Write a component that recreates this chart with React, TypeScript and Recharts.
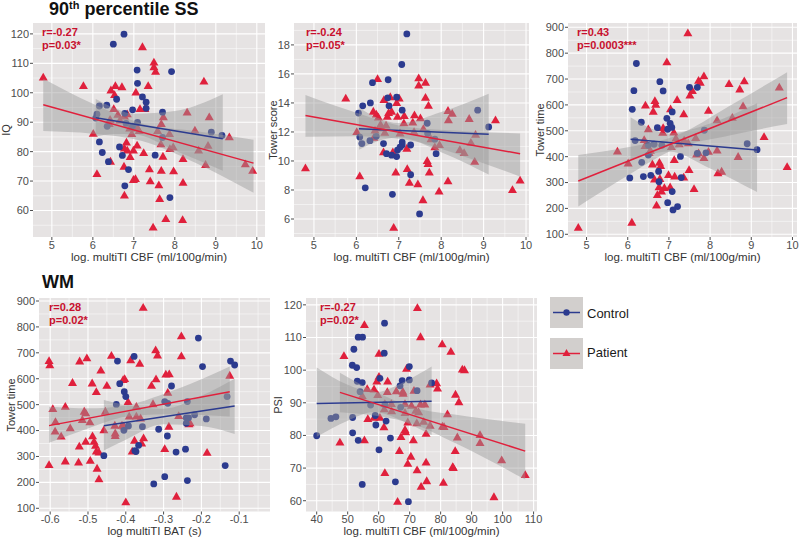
// @ts-nocheck
import React from 'react';
import { ComposedChart, Scatter, Area, Line, XAxis, YAxis, CartesianGrid } from 'recharts';

const FONT = '"Liberation Sans", Arial, Helvetica, sans-serif';
const BLUE = '#2c3b8f';
const RED = '#e0203c';
const NOTE_RED = '#c8102e';
const PANEL_BG = '#e6e3e3';

// ---- Panel 1: IQ vs CBF (90th percentile SS) ----
const iqCtrlX = [6.76, 6.5, 7.08, 7.92, 7.09, 7.21, 6.58, 7.3, 7.3, 6.34, 6.16, 6.97, 7.7, 6.78, 6.1, 6.07, 7.09, 6.81, 6.97, 6.35, 7.7, 8.89, 9.15, 6.16, 6.65, 6.23, 7.52, 6.72, 6.38, 6.87, 6.78, 7.88];
const iqCtrlY = [119.9, 116.5, 107.7, 107.2, 103.2, 98.6, 97.8, 96.8, 94.7, 95.8, 95.5, 94.2, 93.4, 93.0, 92.7, 91.4, 89.9, 89.6, 88.7, 88.6, 84.8, 86.6, 85.5, 83.3, 81.6, 79.7, 78.8, 78.7, 76.6, 73.9, 68.4, 64.4];
const iqPatX = [4.79, 5.77, 6.44, 6.55, 6.53, 6.71, 7.05, 7.35, 7.21, 7.49, 7.49, 7.53, 8.71, 6.51, 6.61, 6.77, 6.84, 7.15, 7.27, 6.66, 6.42, 6.4, 6.9, 7.09, 7.13, 6.95, 6.01, 7.72, 7.67, 7.58, 7.87, 8.3, 8.84, 8.49, 8.81, 8.58, 9.33, 7.66, 7.88, 7.96, 7.71, 8.2, 8.75, 9.72, 9.9, 6.82, 6.84, 6.77, 7.08, 6.99, 7.24, 6.91, 6.76, 6.99, 7.04, 6.1, 6.43, 7.38, 7.67, 7.97, 7.4, 7.61, 8.2, 7.63, 6.77, 7.78, 8.19, 7.47];
const iqPatY = [105.2, 102.3, 100.8, 102.3, 99.2, 101.9, 100.1, 102.3, 115.5, 110.3, 108.7, 107.1, 103.8, 94.5, 92.5, 91.9, 92.7, 94.5, 94.5, 90.6, 90.8, 89.4, 87.9, 87.9, 87.0, 86.0, 86.1, 91.7, 89.4, 87.0, 86.0, 93.3, 91.7, 87.2, 82.0, 80.4, 84.9, 82.5, 80.9, 81.5, 78.3, 77.5, 75.5, 75.7, 73.5, 83.1, 80.4, 81.1, 82.1, 80.4, 79.5, 78.2, 74.9, 70.4, 70.7, 72.4, 76.6, 74.0, 73.5, 73.3, 69.9, 68.6, 69.4, 63.9, 65.1, 57.1, 56.8, 54.2];
const iqCtrlBandX = [6.07, 6.5, 7.0, 8.0, 9.17];
const iqCtrlBandLo = [85.1, 86.0, 85.9, 80.4, 73.5];
const iqCtrlBandHi = [97.9, 95.0, 92.9, 93.8, 99.5];
const iqPatBandX = [4.79, 6.0, 7.2, 8.5, 9.92];
const iqPatBandLo = [87.0, 86.1, 83.6, 76.2, 66.0];
const iqPatBandHi = [104.8, 96.3, 89.6, 87.0, 84.0];
const iqCtrlFitX = [6.07, 9.17];
const iqCtrlFitY = [91.5, 84.4];
const iqPatFitX = [4.79, 9.92];
const iqPatFitY = [95.9, 76.1];

// ---- Panel 2: Tower score vs CBF ----
const tsCtrlX = [7.19, 7.07, 6.75, 6.38, 6.95, 6.74, 6.33, 6.77, 6.15, 7.08, 8.86, 6.05, 7.67, 9.12, 7.68, 6.08, 6.47, 6.13, 6.32, 6.64, 7.08, 7.08, 7.03, 7.28, 6.97, 6.71, 6.83, 6.95, 7.88, 7.85, 7.28, 6.21, 6.85, 7.49];
const tsCtrlY = [18.76, 16.65, 15.6, 15.4, 14.4, 14.35, 14.0, 13.8, 13.8, 13.5, 13.5, 13.3, 12.6, 12.35, 11.9, 11.65, 11.7, 11.2, 11.4, 11.2, 11.3, 11.1, 10.95, 11.1, 10.75, 10.5, 10.4, 10.3, 10.5, 11.5, 9.05, 8.15, 7.7, 6.35];
const tsPatX = [4.8, 5.75, 6.5, 7.47, 7.63, 7.47, 6.65, 6.8, 7.01, 7.63, 6.95, 7.7, 6.4, 6.47, 6.52, 6.76, 6.83, 6.73, 6.97, 7.13, 7.37, 7.51, 8.16, 8.26, 8.17, 8.66, 9.28, 6.57, 6.7, 7.12, 7.33, 6.44, 6.59, 6.01, 6.67, 7.03, 7.36, 7.58, 6.41, 7.76, 8.81, 7.96, 7.85, 8.7, 7.19, 8.44, 8.54, 6.64, 6.86, 7.67, 7.69, 8.79, 6.08, 6.93, 7.2, 7.72, 7.25, 7.45, 8.16, 7.95, 7.57, 9.68, 9.86, 6.88];
const tsPatY = [9.5, 14.3, 15.65, 15.7, 15.4, 15.2, 14.2, 14.4, 14.3, 14.35, 14.0, 13.8, 13.4, 13.2, 13.0, 13.3, 13.4, 13.05, 13.05, 13.1, 13.15, 12.95, 13.45, 13.25, 12.8, 12.9, 12.8, 12.5, 12.45, 12.6, 12.65, 12.1, 12.25, 12.0, 11.95, 11.9, 12.0, 12.2, 11.6, 11.5, 11.8, 11.1, 10.95, 11.25, 10.85, 10.75, 10.55, 10.6, 10.6, 10.0, 9.8, 9.95, 8.95, 9.2, 9.45, 9.2, 8.5, 8.4, 8.6, 7.9, 7.3, 8.0, 8.65, 5.4];
const tsCtrlBandX = [6.06, 6.5, 7.0, 8.0, 9.12];
const tsCtrlBandLo = [10.77, 11.36, 11.61, 10.61, 9.07];
const tsCtrlBandHi = [13.67, 12.98, 12.61, 13.37, 14.63];
const tsPatBandX = [4.8, 6.0, 7.2, 8.5, 9.86];
const tsPatBandLo = [11.67, 11.7, 11.44, 10.35, 8.92];
const tsPatBandHi = [14.54, 13.32, 12.34, 12.07, 11.9];
const tsCtrlFitX = [6.06, 9.12];
const tsCtrlFitY = [12.22, 11.85];
const tsPatFitX = [4.8, 9.86];
const tsPatFitY = [13.14, 10.5];

// ---- Panel 3: Tower time vs CBF ----
const ttCtrlX = [6.21, 6.78, 6.15, 6.86, 7.5, 7.69, 6.11, 7.08, 6.95, 7.03, 6.33, 7.07, 6.72, 6.97, 7.86, 6.18, 6.5, 6.64, 6.83, 8.9, 9.14, 7.69, 7.9, 7.28, 6.5, 6.34, 6.75, 6.38, 6.56, 6.05, 7.3, 6.76, 7.08, 6.97, 7.21, 7.1];
const ttCtrlY = [760, 690, 655, 654, 668, 668, 583, 573, 548, 529, 533, 513, 512, 506, 502, 462, 444, 448, 444, 450, 427, 413, 415, 401, 406, 378, 343, 323, 328, 318, 319, 303, 265, 222, 207, 194];
const ttPatX = [4.8, 6.1, 5.75, 6.01, 7.46, 6.95, 7.85, 7.72, 7.76, 8.46, 8.83, 8.72, 7.57, 7.51, 7.2, 6.66, 6.68, 6.43, 6.62, 7.04, 7.96, 8.8, 7.36, 8.54, 8.17, 6.5, 6.86, 6.85, 7.12, 6.4, 6.42, 6.55, 6.52, 7.17, 7.37, 7.47, 7.25, 7.06, 7.65, 7.96, 8.17, 7.72, 7.67, 7.85, 8.68, 9.31, 9.87, 9.68, 6.6, 6.77, 6.8, 7.13, 6.65, 6.78, 6.99, 7.14, 7.36, 7.49, 8.19, 8.28, 6.76, 6.89, 7.03, 6.82, 6.72, 7.61, 6.7];
const ttPatY = [125, 145, 420, 374, 877, 765, 711, 693, 686, 681, 691, 660, 654, 636, 619, 615, 601, 598, 574, 583, 577, 595, 564, 550, 541, 506, 511, 492, 493, 464, 441, 423, 414, 470, 462, 452, 448, 437, 472, 419, 424, 413, 408, 395, 399, 476, 360, 667, 370, 376, 364, 387, 312, 314, 329, 323, 319, 348, 336, 342, 282, 279, 282, 265, 252, 275, 211];
const ttCtrlBandX = [6.07, 6.5, 7.0, 8.0, 9.14];
const ttCtrlBandLo = [387, 408, 420, 354, 263];
const ttCtrlBandHi = [552, 514, 490, 528, 606];
const ttPatBandX = [4.8, 6.0, 7.2, 8.5, 9.87];
const ttPatBandLo = [207, 327, 433, 483, 526];
const ttPatBandHi = [406, 436, 483, 599, 726];
const ttCtrlFitX = [6.07, 9.14];
const ttCtrlFitY = [467, 426];
const ttPatFitX = [4.8, 9.87];
const ttPatFitY = [306, 628];

// ---- Panel 4: Tower time vs BAT (WM) ----
const batCtrlX = [-0.208, -0.422, -0.378, -0.197, -0.123, -0.112, -0.416, -0.404, -0.279, -0.4, -0.425, -0.297, -0.289, -0.237, -0.132, -0.218, -0.24, -0.234, -0.187, -0.24, -0.393, -0.356, -0.405, -0.313, -0.29, -0.366, -0.376, -0.373, -0.267, -0.242, -0.458, -0.137, -0.297, -0.237, -0.326];
const batCtrlY = [757, 668, 686, 647, 668, 653, 581, 550, 572, 531, 501, 512, 505, 512, 531, 461, 449, 449, 445, 428, 418, 415, 401, 405, 379, 343, 322, 319, 317, 328, 303, 265, 222, 207, 194];
const batPatX = [-0.354, -0.603, -0.601, -0.253, -0.321, -0.316, -0.438, -0.503, -0.522, -0.387, -0.363, -0.253, -0.466, -0.541, -0.489, -0.45, -0.407, -0.403, -0.478, -0.32, -0.294, -0.285, -0.332, -0.289, -0.125, -0.394, -0.593, -0.56, -0.51, -0.506, -0.515, -0.495, -0.586, -0.587, -0.547, -0.571, -0.454, -0.458, -0.429, -0.428, -0.428, -0.41, -0.405, -0.391, -0.372, -0.372, -0.361, -0.328, -0.286, -0.26, -0.23, -0.233, -0.377, -0.353, -0.358, -0.383, -0.297, -0.506, -0.523, -0.488, -0.484, -0.48, -0.478, -0.471, -0.603, -0.56, -0.525, -0.494, -0.476, -0.471, -0.4, -0.266, -0.185];
const batPatY = [874, 668, 652, 764, 710, 690, 689, 679, 667, 671, 658, 687, 632, 584, 582, 573, 595, 599, 549, 598, 616, 617, 573, 546, 612, 510, 483, 492, 473, 467, 441, 432, 433, 396, 409, 377, 473, 401, 419, 389, 379, 419, 416, 454, 492, 454, 447, 502, 415, 456, 428, 424, 361, 370, 350, 319, 329, 357, 338, 378, 357, 341, 319, 315, 267, 281, 277, 283, 253, 212, 123, 145, 314];
const batCtrlBandX = [-0.458, -0.4, -0.3, -0.2, -0.112];
const batCtrlBandLo = [323, 365, 424, 418, 387];
const batCtrlBandHi = [518, 499, 484, 534, 600];
const batPatBandX = [-0.603, -0.5, -0.4, -0.3, -0.2, -0.125];
const batPatBandLo = [353, 408, 453, 463, 460, 454];
const batPatBandHi = [492, 486, 497, 541, 598, 647];
const batCtrlFitX = [-0.458, -0.112];
const batCtrlFitY = [419, 495];
const batPatFitX = [-0.603, -0.125];
const batPatFitY = [419, 550];

// ---- Panel 5: PSI vs CBF (WM) ----
const psiCtrlX = [61.9, 53.4, 54.8, 61.8, 52.0, 51.5, 52.9, 69.9, 60.4, 53.1, 54.7, 67.6, 69.9, 66.9, 77.1, 54.0, 72.4, 57.4, 62.0, 67.1, 44.6, 46.2, 51.6, 58.9, 59.1, 62.4, 40.0, 51.6, 53.4, 63.8, 60.1, 65.4, 54.7, 69.6];
const psiCtrlY = [114.4, 110.1, 110.1, 105.2, 106.4, 101.5, 100.8, 101.1, 97.5, 96.6, 96.2, 96.8, 97.0, 95.2, 96.1, 93.4, 93.7, 89.3, 89.4, 88.6, 85.2, 85.7, 85.5, 86.1, 83.2, 84.4, 79.9, 80.8, 78.5, 79.2, 75.6, 65.8, 65.0, 59.7];
const psiPatX = [72.5, 55.4, 73.5, 80.5, 83.3, 60.1, 48.8, 69.0, 87.0, 87.7, 60.1, 62.9, 59.4, 78.7, 76.6, 79.0, 56.3, 58.5, 59.7, 54.7, 62.8, 65.7, 67.8, 67.9, 71.4, 84.8, 85.9, 62.0, 64.1, 68.5, 70.6, 73.5, 74.9, 72.0, 72.9, 64.2, 61.8, 68.5, 69.4, 72.3, 74.5, 76.6, 82.2, 80.6, 81.1, 56.5, 58.5, 60.4, 61.7, 68.5, 68.7, 71.2, 67.2, 75.3, 85.4, 92.7, 92.7, 47.5, 55.4, 66.7, 84.7, 99.7, 70.4, 69.4, 75.3, 83.9, 84.1, 62.0, 72.4, 80.9, 75.5, 73.7, 107.3, 97.2, 66.1];
const psiPatY = [119.0, 113.8, 110.1, 107.9, 105.6, 105.0, 104.3, 100.4, 100.2, 100.0, 98.0, 96.5, 96.5, 96.0, 95.6, 94.4, 94.2, 94.1, 92.4, 92.1, 93.3, 93.5, 93.4, 92.8, 93.7, 92.5, 90.2, 89.6, 89.6, 89.6, 89.1, 89.5, 89.5, 87.6, 87.1, 87.4, 88.0, 86.9, 84.0, 83.7, 84.2, 83.0, 86.5, 82.7, 82.6, 85.0, 85.4, 85.4, 82.5, 81.7, 81.0, 78.5, 79.5, 80.5, 79.4, 80.1, 77.7, 77.8, 78.5, 75.2, 75.2, 72.4, 73.5, 71.3, 71.7, 70.3, 70.0, 68.5, 69.3, 65.5, 66.0, 64.3, 67.9, 61.1, 59.7];
const psiCtrlBandX = [40, 50, 58.5, 68, 77.1];
const psiCtrlBandLo = [79.6, 84.5, 87.15, 84.3, 80.1];
const psiCtrlBandHi = [100.8, 95.5, 93.15, 96.3, 101.1];
const psiPatBandX = [47.5, 60, 70, 85, 107.3];
const psiPatBandLo = [87.1, 85.9, 83.9, 77.5, 66.5];
const psiPatBandHi = [99.2, 92.9, 88.9, 86.3, 83.6];
const psiCtrlFitX = [40, 77.1];
const psiCtrlFitY = [89.8, 90.5];
const psiPatFitX = [47.5, 107.3];
const psiPatFitY = [93.2, 75.2];

// ---- Axis ticks ----
const cbfTicks = [5, 6, 7, 8, 9, 10];
const cbfMinor = [5.5, 6.5, 7.5, 8.5, 9.5];
const iqTicks = [60, 70, 80, 90, 100, 110, 120];
const iqMinor = [55, 65, 75, 85, 95, 105, 115];
const tsTicks = [6, 8, 10, 12, 14, 16, 18];
const tsMinor = [5, 7, 9, 11, 13, 15, 17, 19];
const timeTicks = [100, 200, 300, 400, 500, 600, 700, 800, 900];
const timeMinor = [150, 250, 350, 450, 550, 650, 750, 850];
const batTicks = [-0.6, -0.5, -0.4, -0.3, -0.2, -0.1];
const batMinor = [-0.55, -0.45, -0.35, -0.25, -0.15, -0.05];
const psiXTicks = [40, 50, 60, 70, 80, 90, 100, 110];
const psiXMinor = [45, 55, 65, 75, 85, 95, 105];
const psiTicks = [60, 70, 80, 90, 100, 110, 120];
const psiMinor = [65, 75, 85, 95, 105, 115];

const pts = (xs, ys) => xs.map((x, i) => ({ x, y: ys[i] }));
const band = (xs, lo, hi) => xs.map((x, i) => ({ x, band: [lo[i], hi[i]] }));

const Dot = (props) => {
  if (props.cx == null) return null;
  return <circle cx={props.cx} cy={props.cy} r={3.4} fill={BLUE} />;
};

const Tri = (props) => {
  const { cx, cy } = props;
  if (cx == null) return null;
  return <path d={`M${cx},${cy - 4.8}L${cx + 4.5},${cy + 3}L${cx - 4.5},${cy + 3}Z`} fill={RED} />;
};

// room around each plot area for tick labels
const YW = 40;
const XH = 30;
const MT = 8;
const MR = 12;

function Panel({ p }) {
  const tickStyle = { fontSize: 11, fill: '#4d4d4d', fontFamily: FONT };
  const W = YW + p.w + MR;
  const H = MT + p.h + XH;
  return (
    <div style={{ position: 'absolute', left: p.left - YW, top: p.top - MT, width: W, height: H }}>
      <ComposedChart width={W} height={H} margin={{ top: MT, right: MR, bottom: 0, left: 0 }}>
        <CartesianGrid fill={PANEL_BG} stroke="#ffffff" strokeWidth={0.5} horizontalValues={p.yMinor} verticalValues={p.xMinor} />
        <CartesianGrid stroke="#ffffff" strokeWidth={1.1} horizontalValues={p.yTicks} verticalValues={p.xTicks} />
        <XAxis type="number" dataKey="x" domain={p.xDomain} ticks={p.xTicks} interval={0} allowDataOverflow height={XH}
          axisLine={false} tickSize={3} tickMargin={1} tickLine={{ stroke: '#4d4d4d' }} tick={tickStyle} />
        <YAxis type="number" dataKey="y" domain={p.yDomain} ticks={p.yTicks} interval={0} allowDataOverflow width={YW}
          axisLine={false} tickSize={3} tickMargin={1} tickLine={{ stroke: '#4d4d4d' }} tick={tickStyle} />
        <Scatter data={p.pat} shape={Tri} isAnimationActive={false} zIndex={50} />
        <Scatter data={p.ctrl} shape={Dot} isAnimationActive={false} zIndex={51} />
        <Area data={p.patBand} dataKey="band" type="monotone" fill="#999999" fillOpacity={0.45} stroke="none" isAnimationActive={false} />
        <Area data={p.ctrlBand} dataKey="band" type="monotone" fill="#999999" fillOpacity={0.45} stroke="none" isAnimationActive={false} />
        <Line data={p.ctrlFit} dataKey="y" stroke={BLUE} strokeWidth={1.5} dot={false} isAnimationActive={false} />
        <Line data={p.patFit} dataKey="y" stroke={RED} strokeWidth={1.5} dot={false} isAnimationActive={false} />
      </ComposedChart>
    </div>
  );
}

const panels = [
  {
    left: 33, top: 23, w: 232, h: 214, xDomain: [4.54, 10.2], yDomain: [51, 123.7],
    xTicks: cbfTicks, xMinor: cbfMinor, yTicks: iqTicks, yMinor: iqMinor,
    ctrl: pts(iqCtrlX, iqCtrlY), pat: pts(iqPatX, iqPatY),
    ctrlBand: band(iqCtrlBandX, iqCtrlBandLo, iqCtrlBandHi), patBand: band(iqPatBandX, iqPatBandLo, iqPatBandHi),
    ctrlFit: pts(iqCtrlFitX, iqCtrlFitY), patFit: pts(iqPatFitX, iqPatFitY),
    xLabel: 'log. multiTI CBF (ml/100g/min)', yLabel: 'IQ', yLabelX: 6, r: 'r=-0.27', pv: 'p=0.03*', noteDx: 9,
  },
  {
    left: 294, top: 23, w: 235, h: 214, xDomain: [4.53, 10.07], yDomain: [4.76, 19.51],
    xTicks: cbfTicks, xMinor: cbfMinor, yTicks: tsTicks, yMinor: tsMinor,
    ctrl: pts(tsCtrlX, tsCtrlY), pat: pts(tsPatX, tsPatY),
    ctrlBand: band(tsCtrlBandX, tsCtrlBandLo, tsCtrlBandHi), patBand: band(tsPatBandX, tsPatBandLo, tsPatBandHi),
    ctrlFit: pts(tsCtrlFitX, tsCtrlFitY), patFit: pts(tsPatFitX, tsPatFitY),
    xLabel: 'log. multiTI CBF (ml/100g/min)', yLabel: 'Tower score', yLabelX: 273, r: 'r=-0.24', pv: 'p=0.05*', noteDx: 12,
  },
  {
    left: 568, top: 23, w: 229, h: 214, xDomain: [4.55, 10.11], yDomain: [89.5, 916.6],
    xTicks: cbfTicks, xMinor: cbfMinor, yTicks: timeTicks, yMinor: timeMinor,
    ctrl: pts(ttCtrlX, ttCtrlY), pat: pts(ttPatX, ttPatY),
    ctrlBand: band(ttCtrlBandX, ttCtrlBandLo, ttCtrlBandHi), patBand: band(ttPatBandX, ttPatBandLo, ttPatBandHi),
    ctrlFit: pts(ttCtrlFitX, ttCtrlFitY), patFit: pts(ttPatFitX, ttPatFitY),
    xLabel: 'log. multiTI CBF (ml/100g/min)', yLabel: 'Tower time', yLabelX: 540, r: 'r=0.43', pv: 'p=0.0003***', noteDx: 9,
  },
  {
    left: 39, top: 298, w: 231, h: 213.5, xDomain: [-0.6296, -0.0185], yDomain: [87.6, 911.6],
    xTicks: batTicks, xMinor: batMinor, yTicks: timeTicks, yMinor: timeMinor,
    ctrl: pts(batCtrlX, batCtrlY), pat: pts(batPatX, batPatY),
    ctrlBand: band(batCtrlBandX, batCtrlBandLo, batCtrlBandHi), patBand: band(batPatBandX, batPatBandLo, batPatBandHi),
    ctrlFit: pts(batCtrlFitX, batCtrlFitY), patFit: pts(batPatFitX, batPatFitY),
    xLabel: 'log multiTI BAT (s)', yLabel: 'Tower time', yLabelX: 11, r: 'r=0.28', pv: 'p=0.02*', noteDx: 10,
  },
  {
    left: 306, top: 298, w: 231, h: 213.5, xDomain: [36.55, 111.1], yDomain: [56.7, 122.1],
    xTicks: psiXTicks, xMinor: psiXMinor, yTicks: psiTicks, yMinor: psiMinor,
    ctrl: pts(psiCtrlX, psiCtrlY), pat: pts(psiPatX, psiPatY),
    ctrlBand: band(psiCtrlBandX, psiCtrlBandLo, psiCtrlBandHi), patBand: band(psiPatBandX, psiPatBandLo, psiPatBandHi),
    ctrlFit: pts(psiCtrlFitX, psiCtrlFitY), patFit: pts(psiPatFitX, psiPatFitY),
    xLabel: 'log. multiTI CBF (ml/100g/min)', yLabel: 'PSI', yLabelX: 278, r: 'r=-0.27', pv: 'p=0.02*', noteDx: 14,
  },
];

const abs = (extra) => ({ position: 'absolute', fontFamily: FONT, whiteSpace: 'nowrap', ...extra });

function LegendKey({ top, color, tri }) {
  return (
    <div style={abs({ left: 550, top, width: 33, height: 31, background: '#d2cfcd' })}>
      <svg width={33} height={31}>
        <line x1={3} y1={15.5} x2={30} y2={15.5} stroke={color} strokeWidth={1.5} />
        {tri ? <path d="M16.5,11L20.5,18L12.5,18Z" fill={color} /> : <circle cx={16.5} cy={15.5} r={3.2} fill={color} />}
      </svg>
    </div>
  );
}

export default function App() {
  return (
    <div style={{ position: 'absolute', left: 0, top: 0, width: 800, height: 538, background: '#ffffff', overflow: 'hidden' }}>
      {panels.map((p, i) => <Panel key={i} p={p} />)}
      {panels.map((p, i) => (
        <React.Fragment key={'t' + i}>
          <div style={abs({ left: p.left + p.w / 2, top: p.top + p.h + 13.5, transform: 'translateX(-50%)', fontSize: 11.5, lineHeight: '12px', color: '#333333' })}>{p.xLabel}</div>
          <div style={abs({ left: p.yLabelX, top: p.top + p.h / 2, transform: 'translate(-50%, -50%) rotate(-90deg)', fontSize: 11, lineHeight: '11px', color: '#333333' })}>{p.yLabel}</div>
          <div style={abs({ left: p.left + p.noteDx, top: p.top + 2.5, fontSize: 11, lineHeight: '13px', fontWeight: 'bold', color: NOTE_RED })}>
            <div>{p.r}</div>
            <div>{p.pv}</div>
          </div>
        </React.Fragment>
      ))}
      <div style={abs({ left: 49, top: 0, fontSize: 18, lineHeight: '18px', fontWeight: 'bold', color: '#111111' })}>
        90<sup style={{ fontSize: 11, verticalAlign: 'top', lineHeight: '11px', position: 'relative', top: 0 }}>th</sup> percentile SS
      </div>
      <div style={abs({ left: 42, top: 273, fontSize: 18, lineHeight: '18px', fontWeight: 'bold', color: '#111111' })}>WM</div>
      <LegendKey top={297} color={BLUE} />
      <LegendKey top={338} color={RED} tri />
      <div style={abs({ left: 587, top: 306, fontSize: 13, lineHeight: '15px', color: '#1a1a1a' })}>Control</div>
      <div style={abs({ left: 587, top: 345, fontSize: 13, lineHeight: '15px', color: '#1a1a1a' })}>Patient</div>
    </div>
  );
}
